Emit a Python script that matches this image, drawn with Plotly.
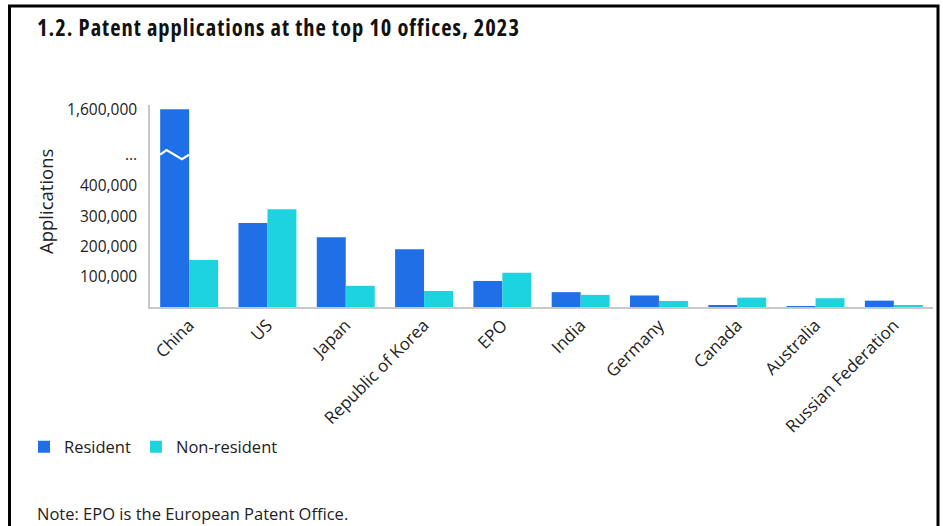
import plotly.graph_objects as go

# ---------------- data ----------------
offices = ["China", "US", "Japan", "Republic of Korea", "EPO", "India",
           "Germany", "Canada", "Australia", "Russian Federation"]
resident = [1600000, 277000, 230000, 191000, 86000, 49000, 38000, 3500, 2500, 21000]
non_resident = [155000, 323000, 70000, 53000, 113000, 40000, 20000, 31000, 29000, 6000]

tick_values = [100000, 200000, 300000, 400000, 1600000]
tick_labels = ["100,000", "200,000", "300,000", "400,000", "1,600,000"]

title_text = "1.2. Patent applications at the top 10 offices, 2023"
y_title = "Applications"
note_text = "Note: EPO is the European Patent Office."
series_names = ["Resident", "Non-resident"]

# ---------------- broken-axis transform ----------------
BREAK_LOW = 480000
BREAK_HIGH = 1450000
GAP = 23000


def disp(v):
    if v <= BREAK_LOW:
        return v
    return BREAK_LOW + GAP + (v - BREAK_HIGH)


BLUE = "#1F6FE6"
CYAN = "#1DD3E0"
FONT = "Open Sans"
BARGAP = 0.26

fig = go.Figure()
fig.add_trace(go.Bar(
    x=offices, y=[disp(v) for v in resident], name=series_names[0],
    marker=dict(color=BLUE, line=dict(width=0)),
    customdata=resident, hovertemplate="%{x}<br>%{customdata:,}<extra>Resident</extra>"))
fig.add_trace(go.Bar(
    x=offices, y=[disp(v) for v in non_resident], name=series_names[1],
    marker=dict(color=CYAN, line=dict(width=0)),
    customdata=non_resident, hovertemplate="%{x}<br>%{customdata:,}<extra>Non-resident</extra>"))

break_y = disp(BREAK_HIGH)
tv = [disp(v) for v in tick_values[:4]] + [break_y, disp(tick_values[4])]
tt = tick_labels[:4] + ["..."] + [tick_labels[4]]

# zigzag break mark on bars that exceed the break
half = (1 - BARGAP) / 2
amp = 15000
shapes = []
for i, v in enumerate(resident):
    if v > BREAK_LOW:
        x0 = i - half
        x1 = i
        w = x1 - x0
        path = (f"M {x0},{break_y} L {x0 + w*0.22},{break_y + amp} "
                f"L {x0 + w*0.75},{break_y - amp} L {x1},{break_y}")
        shapes.append(dict(type="path", path=path, xref="x", yref="y",
                           line=dict(color="white", width=2.2), layer="above"))

# outer frame (pixel positions converted to paper)
L, R, T, B = 150, 10, 105, 219
W, H = 943, 526
pw, ph = W - L - R, H - T - B


def px_x(p):
    return (p - L) / pw


def px_y(p):
    return (H - B - p) / ph


shapes.append(dict(type="rect", xref="paper", yref="paper",
                   x0=px_x(9.5), x1=px_x(938), y0=px_y(540), y1=px_y(6),
                   line=dict(color="black", width=3), layer="above"))

fig.update_layout(
    width=W, height=H,
    margin=dict(l=L, r=R, t=T, b=B),
    paper_bgcolor="white", plot_bgcolor="white",
    barmode="group", bargap=BARGAP, bargroupgap=0,
    font=dict(family=FONT, size=15.5, color="#222222"),
    showlegend=True,
    legend=dict(orientation="h", x=px_x(24), xanchor="left", y=px_y(447), yanchor="middle",
                font=dict(size=16.5, color="#222222"), itemclick=False, bgcolor="rgba(0,0,0,0)",
                traceorder="normal"),
    shapes=shapes,
    xaxis=dict(showline=True, linecolor="#c8c8c8", linewidth=1.5, ticks="",
               tickangle=-45, tickfont=dict(size=17, color="#222222"),
               showgrid=False, zeroline=False, fixedrange=True),
    yaxis=dict(range=[0, 667000], tickvals=tv, ticktext=tt, showline=True,
               linecolor="#c8c8c8", linewidth=1.5, ticks="", showgrid=False,
               zeroline=False, ticklabelstandoff=8,
               tickfont=dict(size=15.5, color="#222222"), fixedrange=True),
    annotations=[
        dict(text=f"<b><span style=\"font-stretch:75%;letter-spacing:1px\">{title_text}</span></b>",
             xref="paper", yref="paper", x=px_x(35), y=px_y(27), xanchor="left",
             yanchor="middle", showarrow=False, font=dict(size=22.5, color="#111111", family=FONT)),
        dict(text=y_title, xref="paper", yref="paper", x=px_x(45), y=px_y(202),
             xanchor="center", yanchor="middle", textangle=-90, showarrow=False,
             font=dict(size=18.5, color="#222222")),
        dict(text=note_text, xref="paper", yref="paper", x=px_x(35), y=px_y(513),
             xanchor="left", yanchor="middle", showarrow=False,
             font=dict(size=16.5, color="#222222")),
    ],
)

fig.write_html("out.html")
